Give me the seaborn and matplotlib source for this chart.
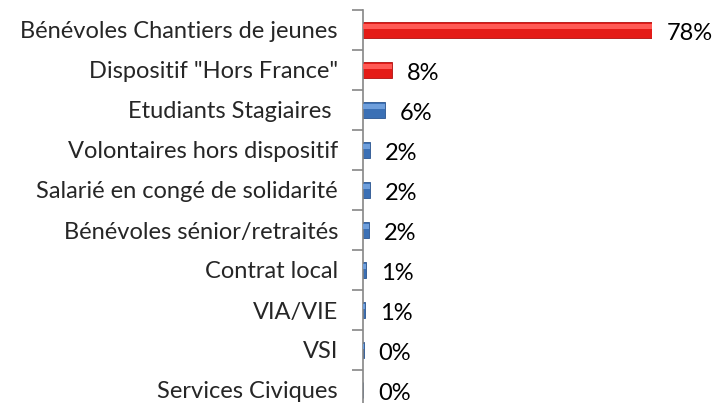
import numpy as np
import pandas as pd
import matplotlib
matplotlib.use('Agg')
import matplotlib.pyplot as plt
import seaborn as sns

categories = ["Bénévoles Chantiers de jeunes", 'Dispositif "Hors France"',
              "Etudiants Stagiaires ", "Volontaires hors dispositif",
              "Salarié en congé de solidarité", "Bénévoles sénior/retraités",
              "Contrat local", "VIA/VIE", "VSI", "Services Civiques"]
values = [77.9, 7.8, 5.9, 1.9, 1.8, 1.7, 0.8, 0.6, 0.2, 0.1]
labels = ["78%", "8%", "6%", "2%", "2%", "2%", "1%", "1%", "0%", "0%"]
groups = ["red", "red", "blue", "blue", "blue", "blue", "blue", "blue", "blue", "blue"]

df = pd.DataFrame({"cat": categories, "val": values, "grp": groups})

sns.set_style("white")
plt.rcParams['font.family'] = ['Lato', 'DejaVu Sans']

W, H = 716, 403
fig = plt.figure(figsize=(W / 100, H / 100), dpi=100)
ax = fig.add_axes([363 / W, 1 - 410 / H, 289 / W, 400 / H])

palette = {"red": "#e41b17", "blue": "#3b70b5"}
edges = {"red": "#b01010", "blue": "#2a5490"}
sns.barplot(data=df, x="val", y="cat", hue="grp", palette=palette,
            dodge=False, legend=False, width=0.42, ax=ax, saturation=1)
for p, g in zip(ax.patches, groups):
    p.set_edgecolor(edges[g])
    p.set_linewidth(0.6)

# soft highlight to mimic the bevelled bars
hl = {"red": "#ff5a55", "blue": "#6f9fdc"}
ax.barh(np.arange(len(values)) - 0.08, values, height=0.12,
        color=[hl[g] for g in groups], linewidth=0, zorder=3)

for i, (v, lab) in enumerate(zip(values, labels)):
    ax.text(v + 4.0, i + 0.08, lab, va="center", ha="left", fontsize=17,
            color="black", clip_on=False)

ax.set_xlim(0, 78)
ax.set_ylim(9.5, -0.5)
ax.set_xlabel("")
ax.set_ylabel("")
ax.set_xticks([])
ax.set_yticks(np.arange(len(categories)))
ax.set_yticklabels(categories, fontsize=17)
ax.set_yticks(np.arange(len(categories) + 1) - 0.5, minor=True)
ax.tick_params(axis="y", which="major", length=0, pad=18)
ax.tick_params(axis="y", which="minor", length=8, width=1.2, color="#868686", direction="out")
ax.tick_params(axis="y", left=True, which="minor")

for s in ["top", "right", "bottom"]:
    ax.spines[s].set_visible(False)
ax.spines["left"].set_color("#868686")
ax.spines["left"].set_linewidth(1.2)

fig.savefig("out.png", dpi=100)
